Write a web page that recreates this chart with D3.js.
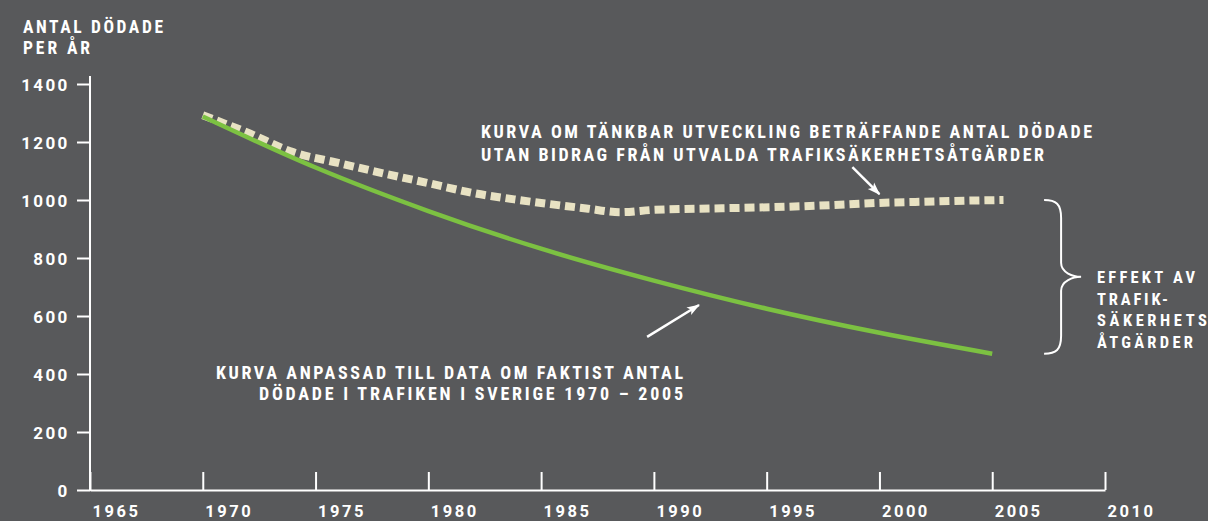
<!DOCTYPE html>
<html>
<head>
<meta charset="utf-8">
<script src="https://cdn.jsdelivr.net/npm/d3@7"></script>
<style>
    html, body { margin: 0; padding: 0; background: #58595b; }
    svg { display: block; }
</style>
</head>
<body>
<div id="chart"></div>
<script>
// Fitted curve, actual deaths 1970-2005
const fittedYears = [1970, 1975, 1980, 1985, 1990, 1995, 2000, 2005];
const fittedDeaths = [1288, 1112, 962, 832, 722, 625, 542, 470];

// Scenario without selected road safety measures
const scenarioYears = [1970, 1972, 1974, 1976, 1978, 1980, 1982, 1984, 1986, 1987, 1988.5, 1990, 1992, 1994, 1996, 1998, 2000, 2002, 2004, 2005.5];
const scenarioDeaths = [1292, 1232, 1165, 1128, 1092, 1058, 1024, 1000, 980, 971, 958, 966, 970, 973, 977, 983, 990, 994, 998, 1000];

const xTicks = [1965, 1970, 1975, 1980, 1985, 1990, 1995, 2000, 2005, 2010];
const yTicks = [0, 200, 400, 600, 800, 1000, 1200, 1400];

const yTitle = ["ANTAL DÖDADE", "PER ÅR"];
const scenarioNote = ["KURVA OM TÄNKBAR UTVECKLING BETRÄFFANDE ANTAL DÖDADE", "UTAN BIDRAG FRÅN UTVALDA TRAFIKSÄKERHETSÅTGÄRDER"];
const fittedNote = ["KURVA ANPASSAD TILL DATA OM FAKTIST ANTAL", "DÖDADE I TRAFIKEN I SVERIGE 1970 – 2005"];
const effectNote = ["EFFEKT AV", "TRAFIK-", "SÄKERHETS", "ÅTGÄRDER"];

const width = 1208, height = 521;
const condensed = "'Liberation Sans Narrow', 'Roboto Condensed', 'DejaVu Sans Condensed', sans-serif";

const svg = d3.select("#chart")
    .append("svg")
    .attr("width", width)
    .attr("height", height);

svg.append("rect")
    .attr("width", width)
    .attr("height", height)
    .attr("fill", "#58595b");

const x = d3.scaleLinear().domain([1965, 2010]).range([90, 1105]);
const y = d3.scaleLinear().domain([0, 1400]).range([490, 84]);

// arrow head
svg.append("defs").append("marker")
    .attr("id", "head")
    .attr("markerUnits", "userSpaceOnUse")
    .attr("viewBox", "-1 -6 16 12")
    .attr("refX", 12).attr("refY", 0)
    .attr("markerWidth", 16).attr("markerHeight", 12)
    .attr("orient", "auto")
    .append("path")
    .attr("d", "M0,-4.5L13,0L0,4.5L3,0Z")
    .attr("fill", "#fff");

/* Y axis */

const yAxis = svg.append("g")
    .attr("transform", "translate(" + x(1965) + ",0)")
    .call(d3.axisLeft(y).tickValues(yTicks).tickSize(13).tickSizeOuter(0).tickPadding(7.5).tickFormat(d3.format("d")));
yAxis.select(".domain").remove();
yAxis.selectAll(".tick line").attr("stroke", "#fff").attr("stroke-width", 2);
yAxis.selectAll(".tick text")
    .attr("fill", "#fff")
    .attr("font-family", "Roboto, sans-serif")
    .attr("font-weight", "bold")
    .attr("font-size", 17)
    .attr("letter-spacing", 2.3)
    .attr("dy", 6);

svg.append("line")
    .attr("x1", x(1965)).attr("x2", x(1965))
    .attr("y1", y(1400) - 8).attr("y2", y(0) + 1)
    .attr("stroke", "#fff").attr("stroke-width", 2);

/* X axis */

const xAxis = svg.append("g")
    .attr("transform", "translate(0," + y(0) + ")")
    .call(d3.axisBottom(x).tickValues(xTicks).tickSize(-18).tickSizeOuter(0).tickPadding(15).tickFormat(d3.format("d")));
xAxis.select(".domain").attr("stroke", "#fff").attr("stroke-width", 2);
xAxis.selectAll(".tick line").attr("stroke", "#fff").attr("stroke-width", 2);
xAxis.selectAll(".tick text")
    .attr("fill", "#fff")
    .attr("text-anchor", "start")
    .attr("dx", 2)
    .attr("font-family", "Roboto, sans-serif")
    .attr("font-weight", "bold")
    .attr("font-size", 16.5)
    .attr("letter-spacing", 2.5);

/* Curves */

const scenario = scenarioYears.map((yr, i) => ({ year: yr, deaths: scenarioDeaths[i] }));
const fitted = fittedYears.map((yr, i) => ({ year: yr, deaths: fittedDeaths[i] }));

svg.append("path")
    .datum(scenario)
    .attr("fill", "none")
    .attr("stroke", "#e8e2c3")
    .attr("stroke-width", 8)
    .attr("stroke-dasharray", "10,5")
    .attr("d", d3.line()
        .x(d => x(d.year))
        .y(d => y(d.deaths))
        .curve(d3.curveMonotoneX));

svg.append("path")
    .datum(fitted)
    .attr("fill", "none")
    .attr("stroke", "#7cc142")
    .attr("stroke-width", 4.5)
    .attr("d", d3.line()
        .x(d => x(d.year))
        .y(d => y(d.deaths))
        .curve(d3.curveMonotoneX));

/* Annotations */

function textBlock(lines, opts) {
    const g = svg.append("g");
    lines.forEach((t, i) => {
        g.append("text")
            .attr("x", opts.x)
            .attr("y", opts.y + i * opts.step)
            .attr("text-anchor", opts.anchor || "start")
            .attr("fill", "#fff")
            .attr("font-family", condensed)
            .attr("font-weight", "bold")
            .attr("font-size", opts.size)
            .attr("textLength", opts.lengths[i])
            .attr("lengthAdjust", "spacing")
            .text(t);
    });
}

textBlock(yTitle, { x: 23, y: 33, step: 21, size: 17.5, lengths: [140, 67] });
textBlock(scenarioNote, { x: 481, y: 138, step: 23, size: 18, lengths: [611, 563] });
textBlock(fittedNote, { x: 683, y: 379, step: 21, size: 18, anchor: "end", lengths: [467, 424] });
textBlock(effectNote, { x: 1097, y: 283, step: 21.7, size: 16.5, lengths: [98, 71, 110, 96] });

// arrows
svg.append("line")
    .attr("x1", x(1998.8)).attr("y1", y(1113))
    .attr("x2", x(2000.0)).attr("y2", y(1020))
    .attr("stroke", "#fff").attr("stroke-width", 2.5)
    .attr("marker-end", "url(#head)");

svg.append("line")
    .attr("x1", x(1989.7)).attr("y1", y(528))
    .attr("x2", x(1992.0)).attr("y2", y(638))
    .attr("stroke", "#fff").attr("stroke-width", 2.5)
    .attr("marker-end", "url(#head)");

// brace between the two curve ends
const bx = x(2007.3), bm = bx + 17, bt = bx + 37;
const yTop = y(scenarioDeaths[scenarioDeaths.length - 1]);
const yBot = y(fittedDeaths[fittedDeaths.length - 1]);
const yMid = (yTop + yBot) / 2;
svg.append("path")
    .attr("fill", "none")
    .attr("stroke", "#fff")
    .attr("stroke-width", 2)
    .attr("d",
        "M" + bx + "," + yTop +
        "C" + (bx + 12) + "," + yTop + " " + bm + "," + (yTop + 4) + " " + bm + "," + (yTop + 18) +
        "L" + bm + "," + (yMid - 14) +
        "C" + bm + "," + (yMid - 4) + " " + (bt - 8) + "," + yMid + " " + bt + "," + yMid +
        "C" + (bt - 8) + "," + yMid + " " + bm + "," + (yMid + 4) + " " + bm + "," + (yMid + 14) +
        "L" + bm + "," + (yBot - 18) +
        "C" + bm + "," + (yBot - 4) + " " + (bx + 12) + "," + yBot + " " + bx + "," + yBot);
</script>
</body>
</html>
